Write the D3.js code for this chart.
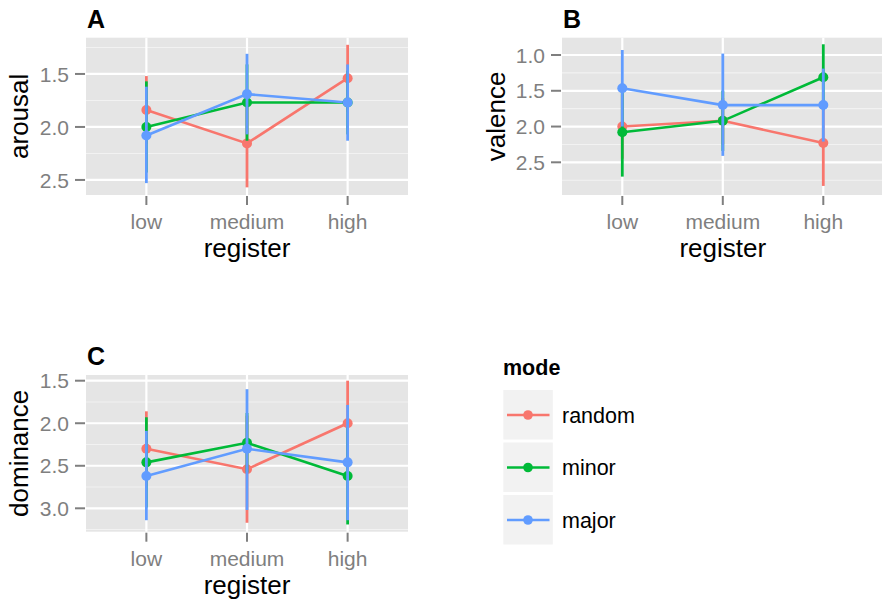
<!DOCTYPE html>
<html><head><meta charset="utf-8">
<script src="https://cdn.jsdelivr.net/npm/d3@7"></script>
<style>body{margin:0;background:#fff;} svg{display:block;font-family:"Liberation Sans",Arial,Helvetica,sans-serif;}</style>
</head><body>
<svg id="chart" width="882" height="603"></svg>
<script>
const categories = ["low", "medium", "high"];
const seriesNames = ["random", "minor", "major"];
const seriesColors = ["#F8766D", "#00BA38", "#619CFF"];

// arousal
const arousalMean = { random: [1.84, 2.155, 1.54], minor: [2.0, 1.77, 1.77], major: [2.08, 1.69, 1.77] };
const arousalLo   = { random: [1.52, 1.73, 1.225], minor: [1.57, 1.41, 1.47], major: [1.62, 1.31, 1.41] };
const arousalHi   = { random: [2.16, 2.57, 1.86], minor: [2.43, 2.13, 2.07], major: [2.53, 2.07, 2.13] };
const arousalTicks = [1.5, 2.0, 2.5];

// valence
const valenceMean = { random: [2.0, 1.92, 2.23], minor: [2.08, 1.92, 1.31], major: [1.465, 1.70, 1.70] };
const valenceLo   = { random: [1.55, 1.6, 1.63], minor: [1.46, 1.5, 0.85], major: [0.93, 0.98, 1.19] };
const valenceHi   = { random: [2.45, 2.25, 2.83], minor: [2.70, 2.34, 1.77], major: [2.0, 2.41, 2.21] };
const valenceTicks = [1.0, 1.5, 2.0, 2.5];

// dominance
const dominanceMean = { random: [2.30, 2.54, 2.0], minor: [2.46, 2.23, 2.62], major: [2.62, 2.30, 2.46] };
const dominanceLo   = { random: [1.86, 1.91, 1.5], minor: [1.93, 1.88, 2.05], major: [2.09, 1.60, 1.785] };
const dominanceHi   = { random: [2.74, 3.17, 2.5], minor: [2.99, 2.58, 3.19], major: [3.14, 3.02, 3.14] };
const dominanceTicks = [1.5, 2.0, 2.5, 3.0];

const svg = d3.select("#chart");

const panels = [
  { label: "A", ytitle: "arousal", mean: arousalMean, lo: arousalLo, hi: arousalHi, ticks: arousalTicks,
    dom: [1.158, 2.642], x0: 86, x1: 408, y0: 37.7, y1: 195, ytx: 28 },
  { label: "B", ytitle: "valence", mean: valenceMean, lo: valenceLo, hi: valenceHi, ticks: valenceTicks,
    dom: [0.758, 2.957], x0: 562, x1: 883.6, y0: 37.7, y1: 195, ytx: 505 },
  { label: "C", ytitle: "dominance", mean: dominanceMean, lo: dominanceLo, hi: dominanceHi, ticks: dominanceTicks,
    dom: [1.433, 3.275], x0: 86, x1: 408, y0: 375, y1: 531.7, ytx: 28 }
];

panels.forEach(p => {
  const g = svg.append("g");
  const x = d3.scalePoint().domain(categories).range([p.x0, p.x1]).padding(0.6);
  const y = d3.scaleLinear().domain(p.dom).range([p.y0, p.y1]);

  g.append("rect").attr("x", p.x0).attr("y", p.y0).attr("width", p.x1 - p.x0).attr("height", p.y1 - p.y0).attr("fill", "#E5E5E5");

  // minor gridlines
  const minor = [];
  for (let i = 0; i < p.ticks.length + 1; i++) {
    const step = p.ticks[1] - p.ticks[0];
    const v = p.ticks[0] - step / 2 + i * step;
    if (v > Math.min(...p.dom) && v < Math.max(...p.dom)) minor.push(v);
  }
  g.selectAll(".minor").data(minor).enter().append("line")
    .attr("x1", p.x0).attr("x2", p.x1).attr("y1", d => y(d)).attr("y2", d => y(d))
    .attr("stroke", "#F2F2F2").attr("stroke-width", 1.1);
  g.selectAll(".major").data(p.ticks).enter().append("line")
    .attr("x1", p.x0).attr("x2", p.x1).attr("y1", d => y(d)).attr("y2", d => y(d))
    .attr("stroke", "#FFFFFF").attr("stroke-width", 2.2);
  g.selectAll(".vmajor").data(categories).enter().append("line")
    .attr("x1", d => x(d)).attr("x2", d => x(d)).attr("y1", p.y0).attr("y2", p.y1)
    .attr("stroke", "#FFFFFF").attr("stroke-width", 2.2);

  // axes ticks
  g.selectAll(".ytick").data(p.ticks).enter().append("line")
    .attr("x1", p.x0 - 11).attr("x2", p.x0 - 1).attr("y1", d => y(d)).attr("y2", d => y(d))
    .attr("stroke", "#7F7F7F").attr("stroke-width", 2);
  g.selectAll(".ylab").data(p.ticks).enter().append("text")
    .attr("x", p.x0 - 17).attr("y", d => y(d)).attr("dy", "0.36em")
    .attr("text-anchor", "end").attr("font-size", 21).attr("fill", "#7F7F7F")
    .text(d => d.toFixed(1));
  g.selectAll(".xtick").data(categories).enter().append("line")
    .attr("x1", d => x(d)).attr("x2", d => x(d)).attr("y1", p.y1 + 1).attr("y2", p.y1 + 10)
    .attr("stroke", "#7F7F7F").attr("stroke-width", 2);
  g.selectAll(".xlab").data(categories).enter().append("text")
    .attr("x", d => x(d)).attr("y", p.y1 + 34)
    .attr("text-anchor", "middle").attr("font-size", 21).attr("fill", "#7F7F7F")
    .text(d => d);

  g.append("text").attr("x", (x(categories[0]) + x(categories[2])) / 2).attr("y", p.y1 + 62)
    .attr("text-anchor", "middle").attr("font-size", 26).attr("fill", "#000").text("register");
  g.append("text").attr("transform", `translate(${p.ytx},${(p.y0 + p.y1) / 2}) rotate(-90)`)
    .attr("text-anchor", "middle").attr("font-size", 26).attr("fill", "#000").text(p.ytitle);
  g.append("text").attr("x", p.x0 + 1).attr("y", p.y0 - 10)
    .attr("font-size", 25).attr("font-weight", "bold").attr("fill", "#000").text(p.label);

  const line = d3.line().x((d, i) => x(categories[i])).y(d => y(d));
  seriesNames.forEach((s, si) => {
    g.append("path").attr("d", line(p.mean[s])).attr("fill", "none")
      .attr("stroke", seriesColors[si]).attr("stroke-width", 2.6);
  });
  seriesNames.forEach((s, si) => {
    categories.forEach((c, ci) => {
      g.append("line").attr("x1", x(c)).attr("x2", x(c))
        .attr("y1", y(p.lo[s][ci])).attr("y2", y(p.hi[s][ci]))
        .attr("stroke", seriesColors[si]).attr("stroke-width", 2.8);
      g.append("circle").attr("cx", x(c)).attr("cy", y(p.mean[s][ci])).attr("r", 5)
        .attr("fill", seriesColors[si]);
    });
  });
});

// legend
const lg = svg.append("g");
lg.append("text").attr("x", 503).attr("y", 375).attr("font-size", 21.5).attr("font-weight", "bold").text("mode");
seriesNames.forEach((s, i) => {
  const ky = 390 + i * 52.5;
  lg.append("rect").attr("x", 503.3).attr("y", ky).attr("width", 49.5).attr("height", 49.5).attr("fill", "#F2F2F2");
  lg.append("line").attr("x1", 507).attr("x2", 549.5).attr("y1", ky + 25).attr("y2", ky + 25)
    .attr("stroke", seriesColors[i]).attr("stroke-width", 2.6);
  lg.append("circle").attr("cx", 528).attr("cy", ky + 25).attr("r", 4.8).attr("fill", seriesColors[i]);
  lg.append("text").attr("x", 562).attr("y", ky + 25).attr("dy", "0.36em").attr("font-size", 21.5).text(s);
});
</script>
</body></html>
